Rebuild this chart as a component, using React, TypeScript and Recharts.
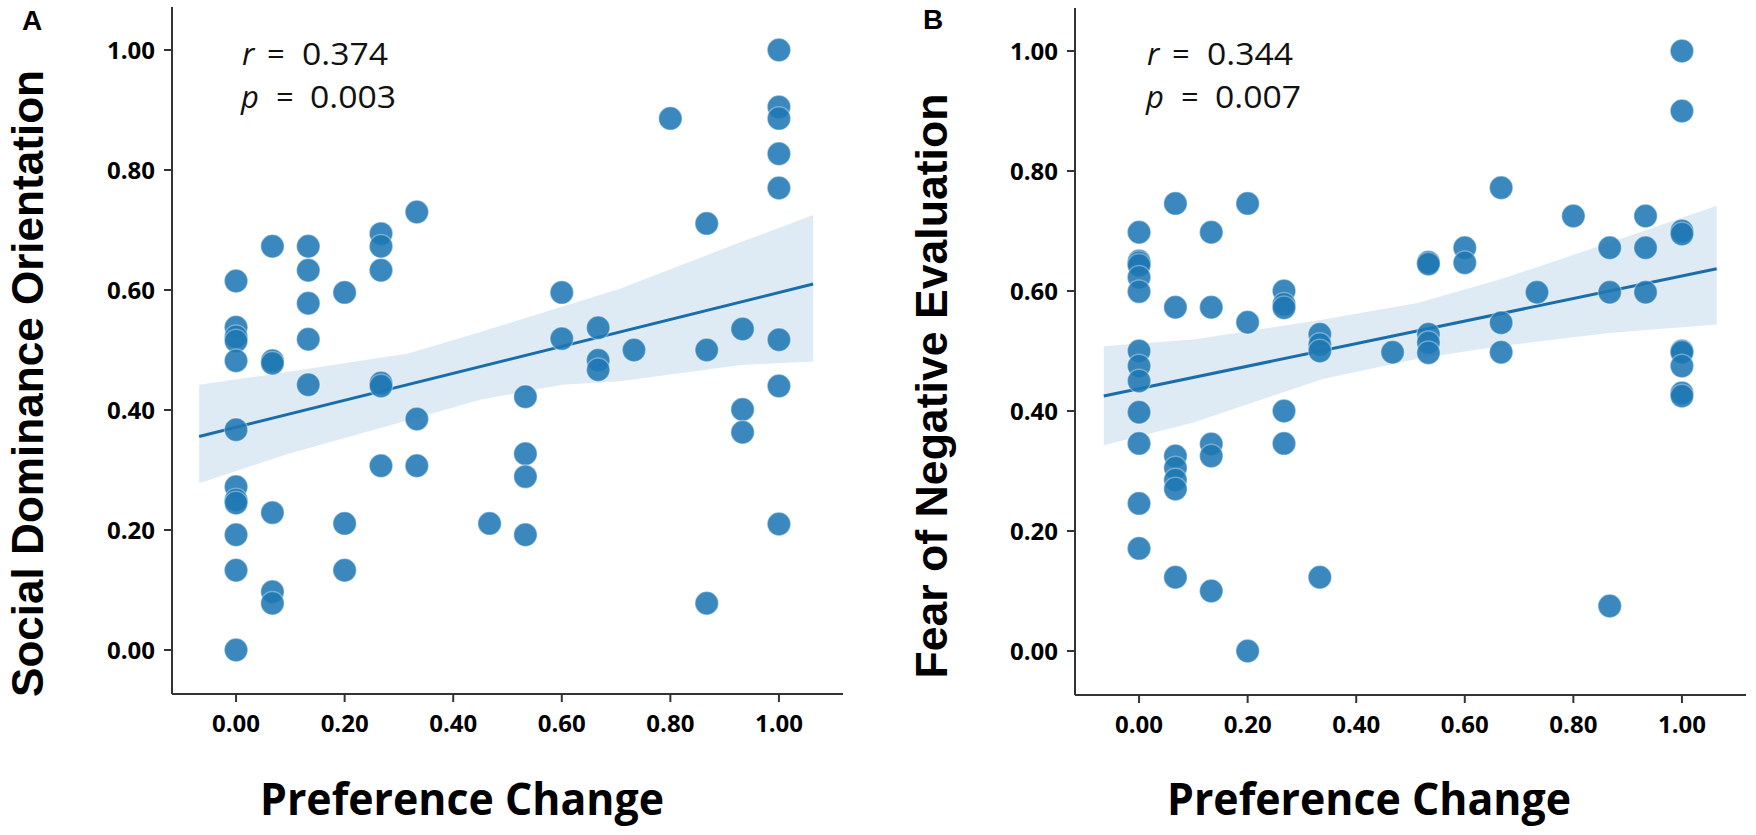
import React from "react";
import { ComposedChart, XAxis, YAxis, Scatter, Line, Area } from "recharts";

// preference change levels (x), shared by both panels
const levels = [0, 0.067, 0.133, 0.2, 0.267, 0.333, 0.467, 0.533, 0.6, 0.667, 0.733, 0.8, 0.867, 0.933, 1];

// panel A: social dominance orientation, one list per level
const sdoByLevel = [
  [0.615, 0.538, 0.522, 0.515, 0.482, 0.367, 0.272, 0.25, 0.245, 0.192, 0.133, 0],
  [0.673, 0.482, 0.478, 0.229, 0.097, 0.078],
  [0.673, 0.633, 0.578, 0.518, 0.442],
  [0.596, 0.211, 0.133],
  [0.694, 0.673, 0.633, 0.445, 0.44, 0.307],
  [0.73, 0.385, 0.307],
  [0.211],
  [0.422, 0.327, 0.289, 0.192],
  [0.596, 0.519],
  [0.537, 0.483, 0.467],
  [0.5],
  [0.886],
  [0.711, 0.5, 0.078],
  [0.535, 0.401, 0.363],
  [1.0, 0.905, 0.886, 0.827, 0.77, 0.517, 0.44, 0.21],
];

// panel B: fear of negative evaluation
const fneByLevel = [
  [0.698, 0.65, 0.647, 0.643, 0.623, 0.599, 0.5, 0.475, 0.45, 0.398, 0.346, 0.246, 0.171],
  [0.746, 0.573, 0.325, 0.305, 0.285, 0.27, 0.123],
  [0.698, 0.573, 0.345, 0.325, 0.1],
  [0.746, 0.548, 0],
  [0.6, 0.578, 0.572, 0.4, 0.346],
  [0.528, 0.511, 0.5, 0.123],
  [0.498],
  [0.648, 0.645, 0.528, 0.514, 0.497],
  [0.672, 0.647],
  [0.772, 0.547, 0.498],
  [0.598],
  [0.725],
  [0.672, 0.598, 0.075],
  [0.725, 0.672, 0.598],
  [1.0, 0.9, 0.7, 0.695, 0.5, 0.498, 0.475, 0.43, 0.425],
];

// regression lines (ends) and confidence bands
const fitXA = [-0.068, 1.063];
const fitYA = [0.356, 0.61];
const bandXA = [-0.068, 0.1, 0.317, 0.45, 0.6, 0.707, 0.93, 1.063];
const bandLoA = [0.278, 0.328, 0.383, 0.417, 0.442, 0.448, 0.475, 0.481];
const bandHiA = [0.442, 0.464, 0.494, 0.53, 0.572, 0.602, 0.68, 0.725];

const fitXB = [-0.065, 1.064];
const fitYB = [0.425, 0.637];
const bandXB = [-0.065, 0.1, 0.337, 0.513, 0.664, 0.865, 1.064];
const bandLoB = [0.343, 0.381, 0.453, 0.487, 0.508, 0.53, 0.544];
const bandHiB = [0.508, 0.519, 0.552, 0.58, 0.619, 0.68, 0.742];

const ticks = [0, 0.2, 0.4, 0.6, 0.8, 1];

const BLUE = "#1f77b4";
const AXIS = "#333333";
const tickStyle = { fontSize: 24, fontWeight: 700, fill: "#000", fontFamily: "'Open Sans', sans-serif" };

const toPoints = (vals: number[][]) => levels.flatMap((lv, i) => vals[i].map((v) => ({ x: lv, y: v })));
const toBand = (xs: number[], lo: number[], hi: number[]) => xs.map((x, i) => ({ x, band: [lo[i], hi[i]] }));
const toFit = (xs: number[], ys: number[]) => xs.map((x, i) => ({ x, y: ys[i] }));

const Dot = (props: any) => (
  <circle
    cx={props.cx}
    cy={props.cy}
    r={11.7}
    fill={BLUE}
    fillOpacity={0.88}
    stroke="#ffffff"
    strokeOpacity={0.35}
    strokeWidth={1.5}
  />
);

function Panel({ points, band, fit }: { points: any[]; band: any[]; fit: any[] }) {
  return (
    <ComposedChart width={853} height={835} margin={{ top: 7, right: 10, bottom: 0, left: 0 }}>
      <XAxis
        type="number"
        dataKey="x"
        domain={[-0.118, 1.118]}
        ticks={ticks}
        tickFormatter={(v) => v.toFixed(2)}
        height={141}
        tickSize={8}
        tickMargin={13}
        tick={tickStyle}
        axisLine={{ stroke: AXIS, strokeWidth: 2 }}
        tickLine={{ stroke: AXIS, strokeWidth: 2 }}
        allowDataOverflow
      />
      <YAxis
        type="number"
        dataKey="y"
        domain={[-0.0733, 1.0717]}
        ticks={ticks}
        tickFormatter={(v) => v.toFixed(2)}
        width={172}
        tickSize={8}
        tickMargin={9}
        tick={tickStyle}
        axisLine={{ stroke: AXIS, strokeWidth: 2 }}
        tickLine={{ stroke: AXIS, strokeWidth: 2 }}
        allowDataOverflow
      />
      <Area
        data={band}
        dataKey="band"
        type="linear"
        stroke="none"
        fill={BLUE}
        fillOpacity={0.15}
        dot={false}
        activeDot={false}
        isAnimationActive={false}
      />
      <Scatter data={points} shape={Dot} isAnimationActive={false} />
      <Line
        data={fit}
        dataKey="y"
        type="linear"
        stroke="#1a6dab"
        strokeWidth={3}
        dot={false}
        activeDot={false}
        isAnimationActive={false}
      />
    </ComposedChart>
  );
}

const annoStyle = { fontSize: 31, fill: "#111", fontFamily: "'Open Sans', sans-serif" };
const titleStyle = { fontSize: 45, fontWeight: 700, fill: "#000", fontFamily: "'Open Sans', sans-serif" };
const yTitleStyle = { fontSize: 45, fontWeight: 700, fill: "#000", fontFamily: "'Liberation Sans', Arial, sans-serif" };
const letterStyle = { fontSize: 28, fontWeight: 700, fill: "#000", fontFamily: "'Liberation Sans', Arial, sans-serif" };

function Stats({ dx, r, p }: { dx: number; r: string; p: string }) {
  return (
    <g transform={`translate(${dx},0)`}>
      <text x={242} y={65} {...annoStyle} fontStyle="italic">r</text>
      <text x={267} y={65} {...annoStyle}>=</text>
      <text x={302} y={65} {...annoStyle} textLength={86} lengthAdjust="spacingAndGlyphs">{r}</text>
      <text x={241} y={108} {...annoStyle} fontStyle="italic">p</text>
      <text x={276} y={108} {...annoStyle}>=</text>
      <text x={310} y={108} {...annoStyle} textLength={86} lengthAdjust="spacingAndGlyphs">{p}</text>
    </g>
  );
}

export default function App() {
  return (
    <div style={{ position: "absolute", left: 0, top: 0, width: 1756, height: 835, background: "#fff" }}>
      <div style={{ position: "absolute", left: 0, top: 0 }}>
        <Panel points={toPoints(sdoByLevel)} band={toBand(bandXA, bandLoA, bandHiA)} fit={toFit(fitXA, fitYA)} />
      </div>
      <div style={{ position: "absolute", left: 903, top: 1 }}>
        <Panel points={toPoints(fneByLevel)} band={toBand(bandXB, bandLoB, bandHiB)} fit={toFit(fitXB, fitYB)} />
      </div>
      <svg width={1756} height={835} style={{ position: "absolute", left: 0, top: 0, pointerEvents: "none" }}>
        <text x={22} y={30} {...letterStyle}>A</text>
        <text x={923} y={29} {...letterStyle}>B</text>
        <Stats dx={0} r="0.374" p="0.003" />
        <Stats dx={905} r="0.344" p="0.007" />
        <text
          transform="translate(43,383.5) rotate(-90)"
          textAnchor="middle"
          textLength={627}
          lengthAdjust="spacingAndGlyphs"
          {...yTitleStyle}
        >
          Social Dominance Orientation
        </text>
        <text
          transform="translate(947,386) rotate(-90)"
          textAnchor="middle"
          textLength={585}
          lengthAdjust="spacingAndGlyphs"
          {...yTitleStyle}
        >
          Fear of Negative Evaluation
        </text>
        <text x={260} y={815} textLength={404} lengthAdjust="spacingAndGlyphs" {...titleStyle}>
          Preference Change
        </text>
        <text x={1167} y={815} textLength={404} lengthAdjust="spacingAndGlyphs" {...titleStyle}>
          Preference Change
        </text>
      </svg>
    </div>
  );
}
